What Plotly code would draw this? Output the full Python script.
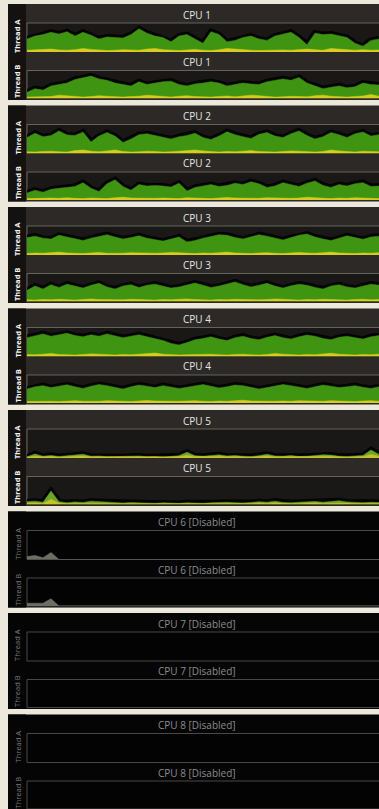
import plotly.graph_objects as go

W, H = 379, 809

cpu_titles = ["CPU 1", "CPU 2", "CPU 3", "CPU 4", "CPU 5",
              "CPU 6 [Disabled]", "CPU 7 [Disabled]", "CPU 8 [Disabled]"]
thread_labels = ["Thread A", "Thread B"]
enabled = [True, True, True, True, True, False, False, False]

cpu1_a_green = [45,55,60,68,62,70,55,68,58,45,52,50,48,60,80,65,55,50,35,55,60,45,30,70,60,35,40,50,55,45,40,55,62,68,50,25,65,60,62,55,50,30,20,40,45]
cpu1_a_yellow = [6,7,8,10,7,6,8,12,9,6,5,6,8,7,6,10,12,8,6,5,7,9,6,5,8,12,10,7,6,5,6,8,7,6,9,10,8,6,12,10,7,6,8,6,7]
cpu1_b_green = [22,35,30,45,50,55,68,75,80,70,65,55,50,45,60,50,55,60,62,50,45,52,55,60,55,45,50,55,52,50,60,65,70,65,75,55,45,35,40,45,38,42,55,50,48]
cpu1_b_yellow = [5,6,8,7,12,9,6,5,7,10,8,6,5,7,8,12,9,6,5,8,10,7,6,5,7,9,6,8,12,10,7,5,6,8,7,6,10,12,8,6,5,7,9,14,8]

cpu2_a_green = [55,70,58,62,78,64,62,74,40,60,72,60,38,50,65,68,62,55,50,58,62,70,55,48,60,75,65,58,52,66,72,60,55,68,78,62,50,58,72,65,55,68,74,60,65]
cpu2_a_yellow = [6,5,7,8,6,5,10,12,8,6,9,12,7,5,6,8,7,5,6,8,10,12,9,6,5,7,6,8,10,7,6,5,7,9,8,6,5,7,12,9,6,5,8,7,6]
cpu2_b_green = [25,35,28,38,42,44,48,62,42,30,58,72,48,35,55,50,52,50,46,60,32,45,50,55,48,52,60,55,65,58,45,50,62,55,48,60,68,52,45,55,50,58,62,48,50]
cpu2_b_yellow = [5,6,5,7,6,8,6,5,7,6,5,8,10,7,6,5,6,7,6,5,8,7,6,5,7,9,7,6,5,6,8,7,5,6,7,10,8,6,5,7,6,8,7,6,5]

cpu3_a_green = [60,65,58,55,68,62,55,50,58,65,70,62,55,60,66,58,52,48,55,62,45,50,58,65,70,68,60,55,62,70,65,58,52,60,68,72,62,55,50,58,66,60,54,62,65]
cpu3_a_yellow = [5,7,6,8,10,7,6,5,7,9,6,5,6,8,7,5,6,7,9,8,6,5,7,6,8,10,7,6,5,7,8,6,5,7,9,7,6,8,10,7,6,5,7,6,8]
cpu3_b_green = [40,55,45,60,50,62,55,48,58,65,52,45,55,60,50,58,62,55,48,52,60,66,58,50,55,62,70,60,52,58,65,55,48,56,62,58,50,45,55,60,52,48,56,62,58]
cpu3_b_yellow = [6,5,7,6,8,6,5,7,9,7,6,5,6,8,7,6,5,7,6,8,9,7,6,5,7,6,8,7,5,6,7,9,8,6,5,7,6,8,7,6,5,7,8,6,7]

cpu4_a_green = [65,72,78,70,75,80,72,68,75,70,78,72,65,70,75,68,62,55,45,40,48,58,62,68,60,55,65,70,62,58,66,72,65,60,68,74,70,62,58,66,70,64,60,68,72]
cpu4_a_yellow = [7,6,8,10,7,6,5,7,9,8,6,5,7,6,8,10,12,8,6,5,6,7,9,8,6,5,7,8,6,5,7,10,8,6,5,7,6,9,11,8,6,5,7,6,8]
cpu4_b_green = [50,58,62,55,60,65,58,52,60,66,62,55,50,58,64,60,55,62,58,52,56,62,66,60,54,58,64,62,56,50,55,60,66,62,58,52,58,64,60,55,58,62,56,52,58]
cpu4_b_yellow = [5,6,7,6,5,7,8,6,5,6,8,7,6,5,7,9,7,6,5,6,7,8,6,5,7,6,8,10,7,6,5,6,7,6,8,7,5,6,8,7,6,5,7,8,6]

cpu5_a_green = [4,14,6,9,5,8,12,13,6,7,4,5,4,6,7,4,5,3,6,8,20,8,6,9,11,7,9,6,5,8,13,7,6,9,5,6,8,11,10,6,5,7,9,28,12]
cpu5_a_yellow = [3,6,4,5,3,4,6,7,4,4,3,3,2,4,4,3,3,2,4,5,9,5,4,5,6,4,5,4,3,5,7,4,4,5,3,4,5,6,6,4,3,4,5,12,6]
cpu5_b_green = [10,12,8,48,10,6,9,7,12,10,8,6,5,7,6,5,4,6,5,4,6,5,4,6,7,8,6,5,7,10,8,12,7,6,8,9,11,8,10,13,9,7,6,8,7]
cpu5_b_yellow = [5,6,4,18,5,3,4,4,6,5,4,3,3,4,3,3,2,3,3,2,3,3,2,3,4,4,3,3,4,5,4,6,4,3,4,5,6,4,5,6,5,4,3,4,4]

cpu6_a_grey = [10,14,6,24,0,0,0,0,0,0,0,0,0,0,0,0,0,0,0,0,0,0,0,0,0,0,0,0,0,0,0,0,0,0,0,0,0,0,0,0,0,0,0,0,0]
cpu6_b_grey = [10,10,10,26,0,0,0,0,0,0,0,0,0,0,0,0,0,0,0,0,0,0,0,0,0,0,0,0,0,0,0,0,0,0,0,0,0,0,0,0,0,0,0,0,0]

series = {
    (0, 0): (cpu1_a_green, cpu1_a_yellow), (0, 1): (cpu1_b_green, cpu1_b_yellow),
    (1, 0): (cpu2_a_green, cpu2_a_yellow), (1, 1): (cpu2_b_green, cpu2_b_yellow),
    (2, 0): (cpu3_a_green, cpu3_a_yellow), (2, 1): (cpu3_b_green, cpu3_b_yellow),
    (3, 0): (cpu4_a_green, cpu4_a_yellow), (3, 1): (cpu4_b_green, cpu4_b_yellow),
    (4, 0): (cpu5_a_green, cpu5_a_yellow), (4, 1): (cpu5_b_green, cpu5_b_yellow),
    (5, 0): (cpu6_a_grey, None), (5, 1): (cpu6_b_grey, None),
}

def xp(px):
    return px / W

def yp(py):
    return 1 - py / H

PERIOD = 101.5
TOP0 = 4
BLOCK_H = 96
PLOT_L = 27
STRIP_L = 8
REL = [(19, 48), (66.5, 94.5)]
TITLE_REL = [10.5, 58]
LABEL_REL = [32, 78]

fig = go.Figure()
shapes = []
annotations = []
layout_axes = {}

ax_i = 0
for b in range(8):
    top = TOP0 + PERIOD * b
    bot = min(top + BLOCK_H, H)
    on = enabled[b]
    head_col = "#2c2926" if on else "#050505"
    strip_col = "#141210" if on else "#050505"
    plot_col = "#1a1816" if on else "#030303"
    line_col = "#67625c" if on else "#4a4846"
    title_col = "#e6e6e6" if on else "#8c8c8c"
    lab_col = "#f2f2f2" if on else "#7a7a7a"
    shapes.append(dict(type="rect", xref="paper", yref="paper", layer="below",
                       x0=xp(STRIP_L), x1=1, y0=yp(bot), y1=yp(top),
                       fillcolor=head_col, line=dict(width=0)))
    shapes.append(dict(type="rect", xref="paper", yref="paper", layer="below",
                       x0=xp(STRIP_L), x1=xp(PLOT_L - 1), y0=yp(bot), y1=yp(top),
                       fillcolor=strip_col, line=dict(width=0)))
    for t in range(2):
        ax_i += 1
        r0, r1 = REL[t]
        py0, py1 = top + r0, min(top + r1, H)
        shapes.append(dict(type="rect", xref="paper", yref="paper", layer="below",
                           x0=xp(PLOT_L), x1=1, y0=yp(py1), y1=yp(py0),
                           fillcolor=plot_col, line=dict(width=0)))
        shapes.append(dict(type="line", xref="paper", yref="paper", layer="below",
                           x0=xp(PLOT_L), x1=1, y0=yp(py0), y1=yp(py0),
                           line=dict(color=line_col, width=1)))
        shapes.append(dict(type="line", xref="paper", yref="paper", layer="below",
                           x0=xp(PLOT_L), x1=xp(PLOT_L), y0=yp(py1), y1=yp(py0),
                           line=dict(color=line_col, width=1)))
        if not on:
            shapes.append(dict(type="line", xref="paper", yref="paper", layer="below",
                               x0=xp(PLOT_L), x1=1, y0=yp(py1), y1=yp(py1),
                               line=dict(color=line_col, width=1)))
        sfx = "" if ax_i == 1 else str(ax_i)
        layout_axes["xaxis" + sfx] = dict(domain=[xp(PLOT_L), 1], range=[0, 44],
                                          visible=False, fixedrange=True,
                                          anchor="y" + sfx)
        layout_axes["yaxis" + sfx] = dict(domain=[yp(py1), yp(py0)], range=[0, 100],
                                          visible=False, fixedrange=True,
                                          anchor="x" + sfx)
        annotations.append(dict(text=cpu_titles[b], xref="paper", yref="paper",
                                x=xp(197), y=yp(top + TITLE_REL[t]),
                                xanchor="center", yanchor="middle", showarrow=False,
                                font=dict(family="Open Sans", size=10, color=title_col)))
        lbl = "<b>" + thread_labels[t] + "</b>" if on else thread_labels[t]
        annotations.append(dict(text=lbl, xref="paper", yref="paper",
                                x=xp(17), y=yp(top + LABEL_REL[t]), textangle=-90,
                                xanchor="center", yanchor="middle", showarrow=False,
                                font=dict(family="Open Sans", size=7.5, color=lab_col)))
        key = (b, t)
        if key in series:
            main, low = series[key]
            xs = list(range(len(main)))
            xa, ya = "x" + sfx, "y" + sfx
            if on:
                gcol = "#6aa628" if b == 4 else "#3f9512"
                ycol = "#c9c12c" if b == 4 else "#d8cc22"
                fig.add_trace(go.Scatter(x=xs, y=main, mode="lines", xaxis=xa, yaxis=ya,
                                         line=dict(color="rgba(0,0,0,0.85)", width=6),
                                         hoverinfo="skip", showlegend=False))
                fig.add_trace(go.Scatter(x=xs, y=main, mode="lines", fill="tozeroy",
                                         xaxis=xa, yaxis=ya, fillcolor=gcol,
                                         line=dict(color=gcol, width=0.5),
                                         showlegend=False))
                fig.add_trace(go.Scatter(x=xs, y=low, mode="lines", fill="tozeroy",
                                         xaxis=xa, yaxis=ya, fillcolor=ycol,
                                         line=dict(color=ycol, width=0.5),
                                         showlegend=False))
            else:
                fig.add_trace(go.Scatter(x=xs, y=main, mode="lines", fill="tozeroy",
                                         xaxis=xa, yaxis=ya, fillcolor="#6e6d64",
                                         line=dict(color="#7a796f", width=0.5),
                                         showlegend=False))

fig.update_layout(width=W, height=H, margin=dict(l=0, r=0, t=0, b=0),
                  paper_bgcolor="#ece8dc", plot_bgcolor="rgba(0,0,0,0)",
                  shapes=shapes, annotations=annotations, showlegend=False,
                  **layout_axes)

fig.write_html("out.html", config={"displayModeBar": False},
               post_script="document.body.style.margin='0';document.body.style.overflow='hidden';")
